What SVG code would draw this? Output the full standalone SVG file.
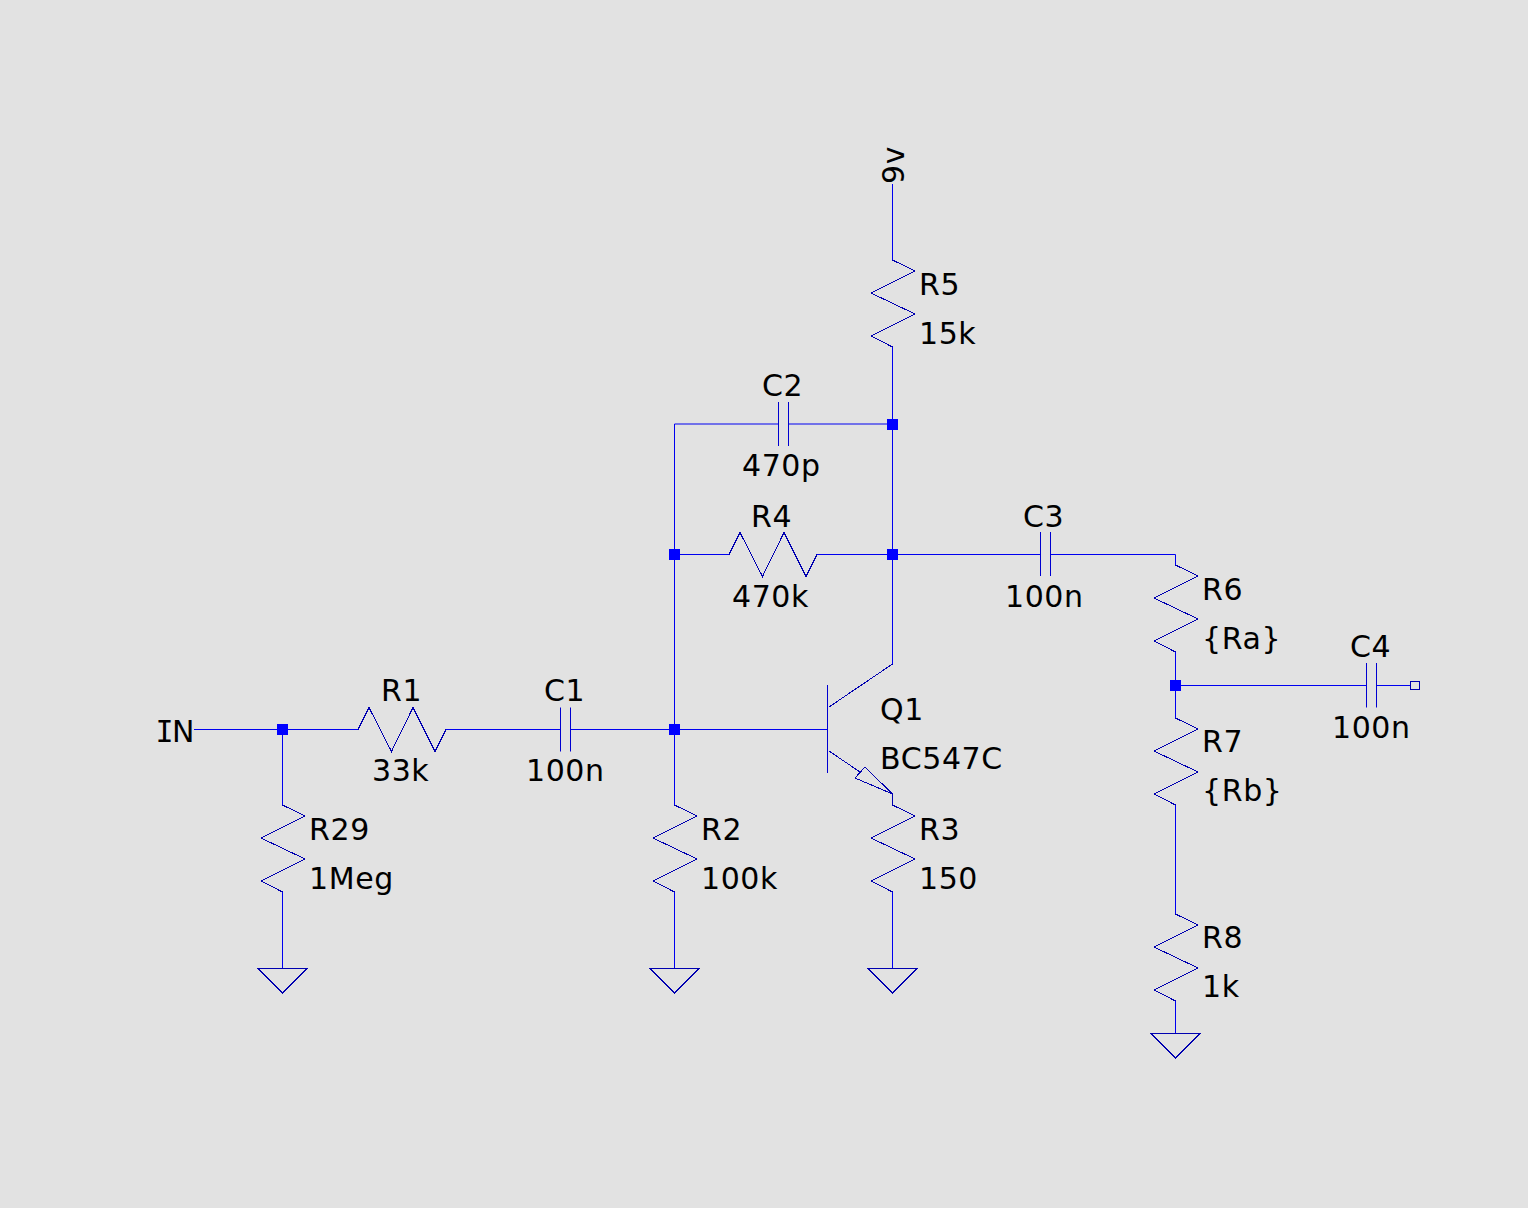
<svg xmlns="http://www.w3.org/2000/svg" width="1528" height="1208" viewBox="0 0 1528 1208">
<style>
text{font-family:"DejaVu Sans",sans-serif;font-size:30px;fill:#000;letter-spacing:0.6px}
.w{fill:none;stroke:#0000f0;stroke-width:1}
.p{fill:none;stroke:#0000d0;stroke-width:1}
.c{fill:none;stroke:#0000b0;stroke-width:1;shape-rendering:crispEdges}
.j{fill:#0000ff}
</style>
<defs>
<path id="rv" class="c" d="M0 0L22.500 11L-21.500 33L22.500 54L-21.500 76L0 87"/>
<path id="rh" class="c" d="M0 0L11 -22L33.500 22L55 -22L77 22L88 0"/>
<path id="gnd" class="c" d="M-25 0H25L0 25Z"/>
<path id="ch" class="p" d="M-5 -22V22M5 -22V22"/>
<rect id="jn" class="j" x="-5.500" y="-5.500" width="11" height="11"/>
</defs>
<rect width="1528" height="1208" fill="#e2e2e2"/>
<g id="connectors">
<path class="w" d="M194 729.500H358M446 729.500H560.500M570.500 729.500H827.500"/>
<path class="w" d="M282.500 729.500V805M282.500 892V968"/>
<path class="w" d="M674.500 424V805M674.500 892V968"/>
<path class="w" d="M674.500 424H778.500M788.500 424H892.500"/>
<path class="w" d="M674.500 554.500H729.500M816.500 554.500H1040.500M1050.500 554.500H1175.500V565"/>
<path class="w" d="M892.500 184V260M892.500 347V664M892.500 892V968"/>
<path class="w" d="M1175.500 652V718M1175.500 805V914M1175.500 1001V1033"/>
<path class="w" d="M1175.500 685.500H1366.500M1376.500 685.500H1410"/>
<use href="#jn" x="282.500" y="729.500"/>
<use href="#jn" x="674.500" y="729.500"/>
<use href="#jn" x="674.500" y="554.500"/>
<use href="#jn" x="892.500" y="554.500"/>
<use href="#jn" x="892.500" y="424.500"/>
<use href="#jn" x="1175.500" y="685.500"/>
</g>
<g id="IN"><text y="742"><tspan x="155.500" font-family="DejaVu Sans Mono">I</tspan><tspan x="172">N</tspan></text></g>
<g id="V9"><text transform="translate(904 184) rotate(-90)">9v</text></g>
<g id="R1"><use href="#rh" x="358" y="729.500"/><text x="381" y="701">R1</text><text x="372" y="781">33k</text></g>
<g id="R29"><use href="#rv" x="282.500" y="805"/><text x="309" y="840">R29</text><text x="309" y="889">1Meg</text></g>
<g id="C1"><use href="#ch" x="565.500" y="729.500"/><text x="544" y="701">C1</text><text x="526" y="781">100n</text></g>
<g id="R2"><use href="#rv" x="674.500" y="805"/><text x="701" y="840">R2</text><text x="701" y="889">100k</text></g>
<g id="C2"><use href="#ch" x="783.500" y="424"/><text x="762" y="396">C2</text><text x="742" y="476">470p</text></g>
<g id="R4"><use href="#rh" x="729" y="554.500"/><text x="751" y="527">R4</text><text x="732" y="607">470k</text></g>
<g id="R5"><use href="#rv" x="892.500" y="260"/><text x="919" y="295">R5</text><text x="919" y="344">15k</text></g>
<g id="Q1">
<path class="p" d="M827.500 685V773"/>
<path class="c" d="M829 707L892.500 664M829 751L860 772M892.500 794V805"/>
<path class="c" d="M892.500 794L855 778L865 767Z"/>
<text x="880" y="720">Q1</text><text x="880" y="769">BC547C</text></g>
<g id="R3"><use href="#rv" x="892.500" y="805"/><text x="919" y="840">R3</text><text x="919" y="889">150</text></g>
<g id="C3"><use href="#ch" x="1045.500" y="554"/><text x="1023" y="527">C3</text><text x="1005" y="607">100n</text></g>
<g id="R6"><use href="#rv" x="1175.500" y="565"/><text x="1202" y="600">R6</text><text x="1202" y="649">{Ra}</text></g>
<g id="R7"><use href="#rv" x="1175.500" y="718"/><text x="1202" y="752">R7</text><text x="1202" y="801">{Rb}</text></g>
<g id="R8"><use href="#rv" x="1175.500" y="914"/><text x="1202" y="948">R8</text><text x="1202" y="997">1k</text></g>
<g id="C4"><path class="p" d="M1366.500 663V707.500M1376.500 663V707.500"/><rect class="c" x="1410.500" y="681.500" width="9" height="8"/><text x="1350" y="657">C4</text><text x="1332" y="738">100n</text></g>
<g id="G1"><use href="#gnd" x="282.500" y="968"/></g>
<g id="G2"><use href="#gnd" x="674.500" y="968"/></g>
<g id="G3"><use href="#gnd" x="892.500" y="968"/></g>
<g id="G4"><use href="#gnd" x="1175.500" y="1033"/></g>
</svg>
